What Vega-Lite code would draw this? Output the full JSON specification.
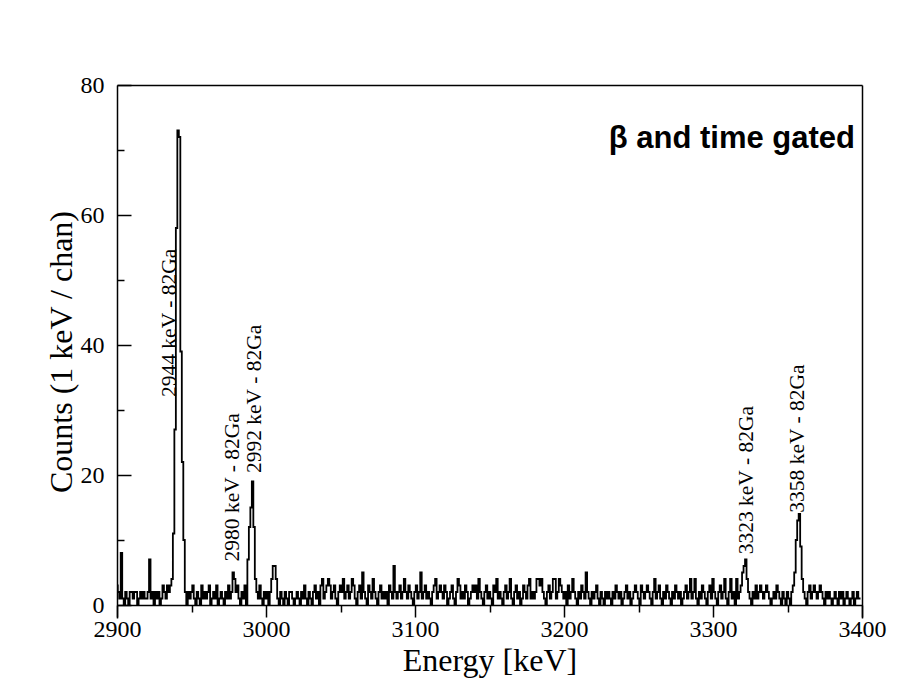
{
  "$schema": "https://vega.github.io/schema/vega-lite/v6.json",
  "width": 745,
  "height": 533,
  "autosize": {"type": "none"},
  "padding": {"left": 117, "top": 85, "right": 57, "bottom": 74},
  "background": "white",
  "config": {"view": {"stroke": null}},
  "datasets": {
    "spec": [
      {"e":2900,"c":3},{"e":2901,"c":2},{"e":2902,"c":1},{"e":2903,"c":8},{"e":2904,"c":1},{"e":2905,"c":0},{"e":2906,"c":2},{"e":2907,"c":1},{"e":2908,"c":0},{"e":2909,"c":2},
      {"e":2910,"c":2},{"e":2911,"c":1},{"e":2912,"c":2},{"e":2913,"c":2},{"e":2914,"c":0},{"e":2915,"c":1},{"e":2916,"c":2},{"e":2917,"c":1},{"e":2918,"c":2},{"e":2919,"c":1},
      {"e":2920,"c":1},{"e":2921,"c":2},{"e":2922,"c":7},{"e":2923,"c":1},{"e":2924,"c":2},{"e":2925,"c":0},{"e":2926,"c":2},{"e":2927,"c":1},{"e":2928,"c":2},{"e":2929,"c":0},
      {"e":2930,"c":1},{"e":2931,"c":3},{"e":2932,"c":2},{"e":2933,"c":1},{"e":2934,"c":3},{"e":2935,"c":2},{"e":2936,"c":3},{"e":2937,"c":4},{"e":2938,"c":11},{"e":2939,"c":27},
      {"e":2940,"c":58},{"e":2941,"c":73},{"e":2942,"c":72},{"e":2943,"c":39},{"e":2944,"c":22},{"e":2945,"c":10},{"e":2946,"c":2},{"e":2947,"c":0},{"e":2948,"c":2},{"e":2949,"c":1},
      {"e":2950,"c":2},{"e":2951,"c":3},{"e":2952,"c":1},{"e":2953,"c":0},{"e":2954,"c":2},{"e":2955,"c":1},{"e":2956,"c":0},{"e":2957,"c":3},{"e":2958,"c":1},{"e":2959,"c":2},
      {"e":2960,"c":1},{"e":2961,"c":2},{"e":2962,"c":3},{"e":2963,"c":0},{"e":2964,"c":1},{"e":2965,"c":2},{"e":2966,"c":1},{"e":2967,"c":3},{"e":2968,"c":0},{"e":2969,"c":1},
      {"e":2970,"c":2},{"e":2971,"c":1},{"e":2972,"c":0},{"e":2973,"c":2},{"e":2974,"c":1},{"e":2975,"c":3},{"e":2976,"c":1},{"e":2977,"c":2},{"e":2978,"c":5},{"e":2979,"c":4},
      {"e":2980,"c":2},{"e":2981,"c":3},{"e":2982,"c":1},{"e":2983,"c":0},{"e":2984,"c":2},{"e":2985,"c":1},{"e":2986,"c":3},{"e":2987,"c":0},{"e":2988,"c":7},{"e":2989,"c":12},
      {"e":2990,"c":15},{"e":2991,"c":19},{"e":2992,"c":12},{"e":2993,"c":4},{"e":2994,"c":2},{"e":2995,"c":1},{"e":2996,"c":3},{"e":2997,"c":1},{"e":2998,"c":0},{"e":2999,"c":2},
      {"e":3000,"c":1},{"e":3001,"c":2},{"e":3002,"c":0},{"e":3003,"c":2},{"e":3004,"c":4},{"e":3005,"c":6},{"e":3006,"c":6},{"e":3007,"c":4},{"e":3008,"c":1},{"e":3009,"c":0},
      {"e":3010,"c":2},{"e":3011,"c":1},{"e":3012,"c":0},{"e":3013,"c":2},{"e":3014,"c":1},{"e":3015,"c":0},{"e":3016,"c":2},{"e":3017,"c":2},{"e":3018,"c":1},{"e":3019,"c":0},
      {"e":3020,"c":1},{"e":3021,"c":2},{"e":3022,"c":1},{"e":3023,"c":0},{"e":3024,"c":2},{"e":3025,"c":1},{"e":3026,"c":3},{"e":3027,"c":1},{"e":3028,"c":0},{"e":3029,"c":2},
      {"e":3030,"c":1},{"e":3031,"c":0},{"e":3032,"c":2},{"e":3033,"c":3},{"e":3034,"c":1},{"e":3035,"c":2},{"e":3036,"c":0},{"e":3037,"c":3},{"e":3038,"c":4},{"e":3039,"c":1},
      {"e":3040,"c":2},{"e":3041,"c":3},{"e":3042,"c":4},{"e":3043,"c":3},{"e":3044,"c":1},{"e":3045,"c":2},{"e":3046,"c":3},{"e":3047,"c":1},{"e":3048,"c":0},{"e":3049,"c":2},
      {"e":3050,"c":3},{"e":3051,"c":2},{"e":3052,"c":4},{"e":3053,"c":1},{"e":3054,"c":2},{"e":3055,"c":3},{"e":3056,"c":1},{"e":3057,"c":2},{"e":3058,"c":4},{"e":3059,"c":3},
      {"e":3060,"c":1},{"e":3061,"c":0},{"e":3062,"c":2},{"e":3063,"c":3},{"e":3064,"c":1},{"e":3065,"c":5},{"e":3066,"c":2},{"e":3067,"c":1},{"e":3068,"c":0},{"e":3069,"c":3},
      {"e":3070,"c":2},{"e":3071,"c":1},{"e":3072,"c":4},{"e":3073,"c":2},{"e":3074,"c":1},{"e":3075,"c":0},{"e":3076,"c":2},{"e":3077,"c":3},{"e":3078,"c":1},{"e":3079,"c":2},
      {"e":3080,"c":1},{"e":3081,"c":2},{"e":3082,"c":0},{"e":3083,"c":3},{"e":3084,"c":2},{"e":3085,"c":1},{"e":3086,"c":6},{"e":3087,"c":2},{"e":3088,"c":1},{"e":3089,"c":2},
      {"e":3090,"c":3},{"e":3091,"c":1},{"e":3092,"c":2},{"e":3093,"c":4},{"e":3094,"c":2},{"e":3095,"c":1},{"e":3096,"c":3},{"e":3097,"c":2},{"e":3098,"c":1},{"e":3099,"c":0},
      {"e":3100,"c":2},{"e":3101,"c":3},{"e":3102,"c":1},{"e":3103,"c":2},{"e":3104,"c":5},{"e":3105,"c":1},{"e":3106,"c":2},{"e":3107,"c":3},{"e":3108,"c":1},{"e":3109,"c":2},
      {"e":3110,"c":1},{"e":3111,"c":0},{"e":3112,"c":2},{"e":3113,"c":3},{"e":3114,"c":4},{"e":3115,"c":1},{"e":3116,"c":2},{"e":3117,"c":3},{"e":3118,"c":2},{"e":3119,"c":1},
      {"e":3120,"c":3},{"e":3121,"c":2},{"e":3122,"c":0},{"e":3123,"c":1},{"e":3124,"c":2},{"e":3125,"c":3},{"e":3126,"c":1},{"e":3127,"c":0},{"e":3128,"c":2},{"e":3129,"c":4},
      {"e":3130,"c":3},{"e":3131,"c":1},{"e":3132,"c":2},{"e":3133,"c":1},{"e":3134,"c":3},{"e":3135,"c":2},{"e":3136,"c":0},{"e":3137,"c":1},{"e":3138,"c":2},{"e":3139,"c":3},
      {"e":3140,"c":2},{"e":3141,"c":3},{"e":3142,"c":1},{"e":3143,"c":4},{"e":3144,"c":2},{"e":3145,"c":1},{"e":3146,"c":0},{"e":3147,"c":2},{"e":3148,"c":3},{"e":3149,"c":1},
      {"e":3150,"c":2},{"e":3151,"c":1},{"e":3152,"c":0},{"e":3153,"c":3},{"e":3154,"c":2},{"e":3155,"c":4},{"e":3156,"c":1},{"e":3157,"c":2},{"e":3158,"c":1},{"e":3159,"c":0},
      {"e":3160,"c":2},{"e":3161,"c":3},{"e":3162,"c":1},{"e":3163,"c":2},{"e":3164,"c":4},{"e":3165,"c":1},{"e":3166,"c":0},{"e":3167,"c":2},{"e":3168,"c":3},{"e":3169,"c":1},
      {"e":3170,"c":2},{"e":3171,"c":0},{"e":3172,"c":1},{"e":3173,"c":3},{"e":3174,"c":2},{"e":3175,"c":1},{"e":3176,"c":3},{"e":3177,"c":4},{"e":3178,"c":1},{"e":3179,"c":2},
      {"e":3180,"c":1},{"e":3181,"c":2},{"e":3182,"c":4},{"e":3183,"c":4},{"e":3184,"c":3},{"e":3185,"c":4},{"e":3186,"c":2},{"e":3187,"c":1},{"e":3188,"c":0},{"e":3189,"c":2},
      {"e":3190,"c":3},{"e":3191,"c":1},{"e":3192,"c":2},{"e":3193,"c":4},{"e":3194,"c":4},{"e":3195,"c":1},{"e":3196,"c":2},{"e":3197,"c":4},{"e":3198,"c":3},{"e":3199,"c":2},
      {"e":3200,"c":1},{"e":3201,"c":2},{"e":3202,"c":0},{"e":3203,"c":3},{"e":3204,"c":1},{"e":3205,"c":2},{"e":3206,"c":4},{"e":3207,"c":2},{"e":3208,"c":1},{"e":3209,"c":0},
      {"e":3210,"c":2},{"e":3211,"c":1},{"e":3212,"c":3},{"e":3213,"c":2},{"e":3214,"c":1},{"e":3215,"c":5},{"e":3216,"c":2},{"e":3217,"c":1},{"e":3218,"c":0},{"e":3219,"c":2},
      {"e":3220,"c":1},{"e":3221,"c":2},{"e":3222,"c":3},{"e":3223,"c":1},{"e":3224,"c":0},{"e":3225,"c":2},{"e":3226,"c":1},{"e":3227,"c":0},{"e":3228,"c":2},{"e":3229,"c":1},
      {"e":3230,"c":2},{"e":3231,"c":1},{"e":3232,"c":0},{"e":3233,"c":2},{"e":3234,"c":1},{"e":3235,"c":3},{"e":3236,"c":2},{"e":3237,"c":1},{"e":3238,"c":2},{"e":3239,"c":0},
      {"e":3240,"c":1},{"e":3241,"c":2},{"e":3242,"c":3},{"e":3243,"c":1},{"e":3244,"c":2},{"e":3245,"c":0},{"e":3246,"c":1},{"e":3247,"c":2},{"e":3248,"c":3},{"e":3249,"c":2},
      {"e":3250,"c":1},{"e":3251,"c":0},{"e":3252,"c":3},{"e":3253,"c":2},{"e":3254,"c":1},{"e":3255,"c":2},{"e":3256,"c":3},{"e":3257,"c":2},{"e":3258,"c":1},{"e":3259,"c":0},
      {"e":3260,"c":2},{"e":3261,"c":4},{"e":3262,"c":1},{"e":3263,"c":2},{"e":3264,"c":3},{"e":3265,"c":1},{"e":3266,"c":0},{"e":3267,"c":2},{"e":3268,"c":1},{"e":3269,"c":3},
      {"e":3270,"c":2},{"e":3271,"c":1},{"e":3272,"c":0},{"e":3273,"c":2},{"e":3274,"c":1},{"e":3275,"c":3},{"e":3276,"c":2},{"e":3277,"c":1},{"e":3278,"c":2},{"e":3279,"c":0},
      {"e":3280,"c":1},{"e":3281,"c":2},{"e":3282,"c":3},{"e":3283,"c":1},{"e":3284,"c":2},{"e":3285,"c":4},{"e":3286,"c":1},{"e":3287,"c":2},{"e":3288,"c":4},{"e":3289,"c":1},
      {"e":3290,"c":0},{"e":3291,"c":2},{"e":3292,"c":1},{"e":3293,"c":3},{"e":3294,"c":2},{"e":3295,"c":1},{"e":3296,"c":0},{"e":3297,"c":2},{"e":3298,"c":3},{"e":3299,"c":1},
      {"e":3300,"c":4},{"e":3301,"c":2},{"e":3302,"c":1},{"e":3303,"c":0},{"e":3304,"c":2},{"e":3305,"c":3},{"e":3306,"c":1},{"e":3307,"c":2},{"e":3308,"c":4},{"e":3309,"c":1},
      {"e":3310,"c":0},{"e":3311,"c":2},{"e":3312,"c":4},{"e":3313,"c":1},{"e":3314,"c":2},{"e":3315,"c":0},{"e":3316,"c":4},{"e":3317,"c":1},{"e":3318,"c":2},{"e":3319,"c":3},
      {"e":3320,"c":5},{"e":3321,"c":6},{"e":3322,"c":7},{"e":3323,"c":4},{"e":3324,"c":2},{"e":3325,"c":1},{"e":3326,"c":0},{"e":3327,"c":2},{"e":3328,"c":1},{"e":3329,"c":3},
      {"e":3330,"c":1},{"e":3331,"c":2},{"e":3332,"c":3},{"e":3333,"c":2},{"e":3334,"c":1},{"e":3335,"c":2},{"e":3336,"c":3},{"e":3337,"c":2},{"e":3338,"c":1},{"e":3339,"c":0},
      {"e":3340,"c":1},{"e":3341,"c":2},{"e":3342,"c":1},{"e":3343,"c":3},{"e":3344,"c":2},{"e":3345,"c":1},{"e":3346,"c":0},{"e":3347,"c":2},{"e":3348,"c":1},{"e":3349,"c":0},
      {"e":3350,"c":2},{"e":3351,"c":1},{"e":3352,"c":0},{"e":3353,"c":2},{"e":3354,"c":3},{"e":3355,"c":5},{"e":3356,"c":10},{"e":3357,"c":13},{"e":3358,"c":14},{"e":3359,"c":9},
      {"e":3360,"c":4},{"e":3361,"c":2},{"e":3362,"c":1},{"e":3363,"c":0},{"e":3364,"c":2},{"e":3365,"c":3},{"e":3366,"c":1},{"e":3367,"c":2},{"e":3368,"c":3},{"e":3369,"c":2},
      {"e":3370,"c":1},{"e":3371,"c":2},{"e":3372,"c":3},{"e":3373,"c":2},{"e":3374,"c":1},{"e":3375,"c":0},{"e":3376,"c":2},{"e":3377,"c":1},{"e":3378,"c":2},{"e":3379,"c":1},
      {"e":3380,"c":0},{"e":3381,"c":1},{"e":3382,"c":2},{"e":3383,"c":1},{"e":3384,"c":0},{"e":3385,"c":2},{"e":3386,"c":1},{"e":3387,"c":2},{"e":3388,"c":0},{"e":3389,"c":1},
      {"e":3390,"c":2},{"e":3391,"c":1},{"e":3392,"c":0},{"e":3393,"c":1},{"e":3394,"c":2},{"e":3395,"c":0},{"e":3396,"c":1},{"e":3397,"c":2},{"e":3398,"c":1},{"e":3399,"c":1}
    ],
    "peaks": [
      {"e": 2935.6, "c": 32, "label": "2944 keV - 82Ga"},
      {"e": 2978.0, "c": 6.7, "label": "2980 keV - 82Ga"},
      {"e": 2992.6, "c": 20.3, "label": "2992 keV - 82Ga"},
      {"e": 3322.8, "c": 7.8, "label": "3323 keV - 82Ga"},
      {"e": 3357.0, "c": 14.2, "label": "3358 keV - 82Ga"}
    ],
    "note": [
      {"e": 3395.3, "c": 70.3, "label": "β and time gated"}
    ]
  },
  "resolve": {"axis": {"x": "independent", "y": "independent"}},
  "layer": [
    {
      "data": {"name": "spec"},
      "mark": {"type": "line", "interpolate": "step", "color": "black", "strokeWidth": 1.8, "clip": true},
      "encoding": {
        "x": {
          "field": "e", "type": "quantitative",
          "scale": {"domain": [2900, 3400], "nice": false, "zero": false},
          "axis": {
            "orient": "bottom", "offset": -13,
            "values": [2900, 2950, 3000, 3050, 3100, 3150, 3200, 3250, 3300, 3350, 3400],
            "format": "d",
            "labelExpr": "datum.value % 100 === 0 ? datum.label : ''",
            "tickSize": {"condition": {"test": "datum.value % 100 === 0", "value": 12}, "value": 7},
            "tickColor": "black", "tickWidth": 1.5, "domainColor": "black", "domainWidth": 1.5,
            "grid": false,
            "labelFont": "Liberation Serif", "labelFontSize": 24, "labelColor": "black", "labelPadding": 0,
            "labelFlush": false, "labelOverlap": false,
            "title": "Energy [keV]", "titleFont": "Liberation Serif", "titleFontSize": 32,
            "titleFontWeight": "normal", "titleColor": "black", "titlePadding": 4
          }
        },
        "y": {
          "field": "c", "type": "quantitative",
          "scale": {"domain": [-2, 80], "nice": false, "zero": false},
          "axis": {
            "orient": "left",
            "values": [0, 20, 40, 60, 80],
            "format": "d",
            "ticks": false,
            "domainColor": "black", "domainWidth": 1.5,
            "grid": false,
            "labelFont": "Liberation Serif", "labelFontSize": 24, "labelColor": "black", "labelPadding": 13,
            "labelFlush": false, "labelOverlap": false,
            "title": "Counts (1 keV / chan)", "titleFont": "Liberation Serif", "titleFontSize": 32,
            "titleFontWeight": "normal", "titleColor": "black", "titlePadding": 2
          }
        }
      }
    },
    {
      "data": {"name": "peaks"},
      "mark": {"type": "text", "angle": 270, "align": "left", "baseline": "middle", "font": "Liberation Serif", "fontSize": 21.5, "color": "black"},
      "encoding": {
        "x": {"field": "e", "type": "quantitative", "axis": {"orient": "top", "ticks": false, "labels": false, "title": null, "grid": false, "domainColor": "black", "domainWidth": 1.5}},
        "y": {"field": "c", "type": "quantitative", "axis": {"orient": "right", "offset": -745, "values": [0, 10, 20, 30, 40, 50, 60, 70, 80], "tickSize": {"condition": {"test": "datum.value % 20 === 0", "value": 14}, "value": 7}, "tickColor": "black", "tickWidth": 1.5, "labels": false, "domain": false, "title": null, "grid": false}},
        "text": {"field": "label"}
      }
    },
    {
      "data": {"name": "note"},
      "mark": {"type": "text", "align": "right", "baseline": "alphabetic", "font": "Liberation Sans", "fontWeight": "bold", "fontSize": 31, "color": "black"},
      "encoding": {
        "x": {"field": "e", "type": "quantitative", "axis": null},
        "y": {"field": "c", "type": "quantitative", "axis": {"orient": "right", "ticks": false, "labels": false, "title": null, "grid": false, "domainColor": "black", "domainWidth": 1.5}},
        "text": {"field": "label"}
      }
    }
  ]
}
